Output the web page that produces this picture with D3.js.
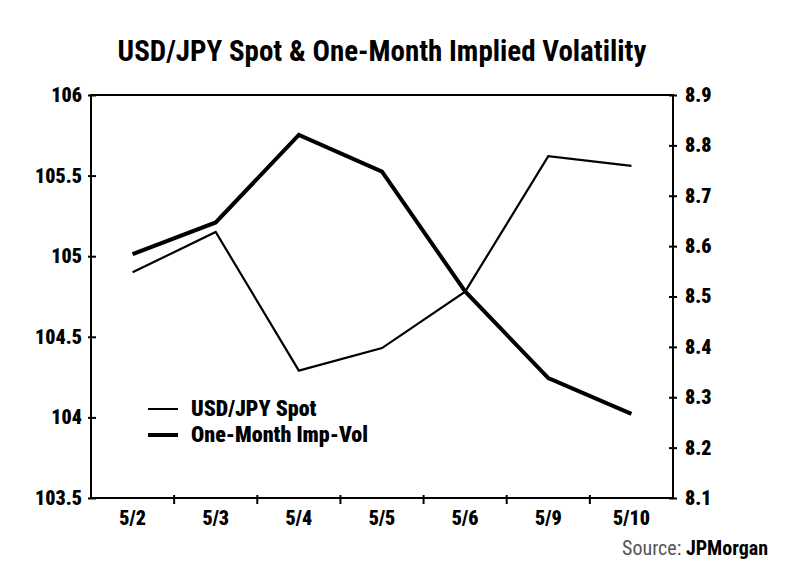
<!DOCTYPE html>
<html>
<head>
<meta charset="utf-8">
<script src="https://cdn.jsdelivr.net/npm/d3@7"></script>
<style>
body { margin: 0; background: #fff; }
svg text { font-family: "Liberation Sans Narrow", "Arial Narrow", "Roboto Condensed", sans-serif; }
.tick text { font-weight: 900; font-size: 20px; fill: #000; }
.domain, .tick line { stroke: #000; stroke-width: 2px; }
</style>
</head>
<body>
<div id="container"></div>
<script>
// data
var dates = ["5/2", "5/3", "5/4", "5/5", "5/6", "5/9", "5/10"];
var spot = [104.90, 105.15, 104.29, 104.43, 104.78, 105.62, 105.56];
var vol = [8.584, 8.647, 8.821, 8.748, 8.51, 8.338, 8.267];
var spotTicks = [103.5, 104, 104.5, 105, 105.5, 106];
var volTicks = [8.1, 8.2, 8.3, 8.4, 8.5, 8.6, 8.7, 8.8, 8.9];
var legendNames = ["USD/JPY Spot", "One-Month Imp-Vol"];

var margin = {top: 95, right: 127, bottom: 86, left: 91},
	width = 800 - margin.left - margin.right,
	height = 584 - margin.top - margin.bottom;

var svg = d3.select("#container").append("svg")
	.attr("width", 800)
	.attr("height", 584);

svg.append("text")
	.attr("x", 382)
	.attr("y", 61)
	.style("text-anchor", "middle")
	.style("font-size", "29px")
	.style("font-weight", "bold")
	.text("USD/JPY Spot & One-Month Implied Volatility");

var g = svg.append("g")
	.attr("transform", "translate(" + margin.left + "," + margin.top + ")");

var x = d3.scaleBand().domain(dates).range([0, width]);
var yL = d3.scaleLinear().domain([103.5, 106]).range([height, 0]);
var yR = d3.scaleLinear().domain([8.1, 8.9]).range([height, 0]);

// frame
g.append("rect")
	.attr("width", width)
	.attr("height", height)
	.style("fill", "none")
	.style("stroke", "#000")
	.style("stroke-width", 2);

// x axis: ticks between categories
var xAxis = g.append("g")
	.attr("class", "x axis")
	.attr("transform", "translate(0," + height + ")")
	.call(d3.axisBottom(x).tickSize(0).tickPadding(11));
xAxis.select(".domain").remove();
xAxis.selectAll(".tick text").attr("dy", "0.8em");
xAxis.selectAll(".sep").data(dates.slice(1)).enter()
	.append("line")
	.attr("class", "sep")
	.attr("x1", function(d) { return x(d); })
	.attr("x2", function(d) { return x(d); })
	.attr("y1", -3)
	.attr("y2", 6)
	.style("stroke", "#000")
	.style("stroke-width", 2);

var leftAxis = g.append("g")
	.attr("class", "y axis")
	.call(d3.axisLeft(yL).tickValues(spotTicks).tickSizeInner(-5).tickSizeOuter(0).tickPadding(9)
		.tickFormat(d3.format("")));
leftAxis.select(".domain").remove();
leftAxis.selectAll(".tick line").attr("x1", -3);

var rightAxis = g.append("g")
	.attr("class", "y axis")
	.attr("transform", "translate(" + width + ",0)")
	.call(d3.axisRight(yR).tickValues(volTicks).tickSizeInner(-4).tickSizeOuter(0).tickPadding(12)
		.tickFormat(d3.format(".1f")));
rightAxis.select(".domain").remove();
rightAxis.selectAll(".tick line").attr("x1", 4);

var cx = function(d, i) { return x(dates[i]) + x.bandwidth() / 2; };

g.append("path")
	.datum(spot)
	.attr("d", d3.line().x(cx).y(function(d) { return yL(d); }))
	.style("fill", "none")
	.style("stroke", "#000")
	.style("stroke-width", 2.2)
	.style("stroke-linejoin", "miter");

g.append("path")
	.datum(vol)
	.attr("d", d3.line().x(cx).y(function(d) { return yR(d); }))
	.style("fill", "none")
	.style("stroke", "#000")
	.style("stroke-width", 4)
	.style("stroke-linejoin", "miter");

// legend
var legend = svg.append("g").attr("transform", "translate(148,409)");
legendNames.forEach(function(name, i) {
	legend.append("line")
		.attr("x1", 0)
		.attr("x2", 30)
		.attr("y1", i * 26)
		.attr("y2", i * 26)
		.style("stroke", "#000")
		.style("stroke-width", i == 0 ? 2 : 4);
	legend.append("text")
		.attr("x", 43)
		.attr("y", i * 26 + 7)
		.style("font-size", "22px")
		.style("font-weight", "900")
		.text(name);
});

// source note
var src = svg.append("text")
	.attr("x", 768)
	.attr("y", 555)
	.style("text-anchor", "end")
	.style("font-size", "20px");
src.append("tspan").style("fill", "#555").text("Source: ");
src.append("tspan").style("font-weight", "bold").text("JPMorgan");
</script>
</body>
</html>
